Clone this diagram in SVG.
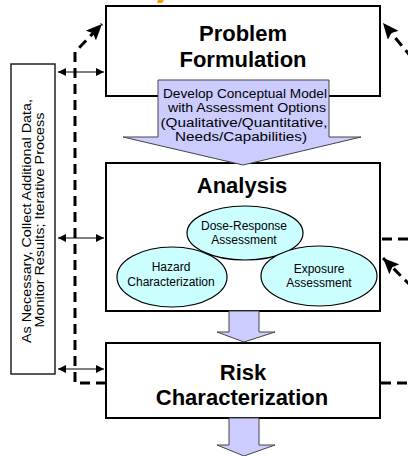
<svg xmlns="http://www.w3.org/2000/svg" width="408" height="456" viewBox="0 0 408 456">
<style>
.box{fill:#fff;stroke:#000;stroke-width:2}
.title{font-family:"Liberation Sans",Arial,sans-serif;font-weight:bold;font-size:22px;text-anchor:middle;fill:#000}
.small{font-family:"Liberation Sans",Arial,sans-serif;font-size:12px;text-anchor:middle;fill:#000}
.side{font-family:"Liberation Sans",Arial,sans-serif;font-size:12.5px;text-anchor:middle;fill:#000}
.lav{fill:#CCCCFF;stroke:#444;stroke-width:1}
.ell{fill:#CCFFFF;stroke:#000;stroke-width:1.2}
.thin{fill:none;stroke:#000;stroke-width:1.2;marker-start:url(#sm);marker-end:url(#sm)}
.dash{fill:none;stroke:#000;stroke-width:3;stroke-dasharray:10 6}
</style>
<defs>
<marker id="sm" viewBox="0 0 8 8" refX="8" refY="4" markerWidth="8" markerHeight="8" markerUnits="userSpaceOnUse" orient="auto-start-reverse">
<path d="M0,0 L8,4 L0,8 z" fill="#000"/>
</marker>
<marker id="big" viewBox="0 0 16 14" refX="16" refY="7" markerWidth="16" markerHeight="14" markerUnits="userSpaceOnUse" orient="auto">
<path d="M0,0 L16,7 L0,14 L3,7 z" fill="#000"/>
</marker>
</defs>
<polygon points="158,0 164,0 162,3 157,3" fill="#FF9900"/>
<g id="problem-formulation">
<rect class="box" x="106" y="6" width="274" height="90"/>
<text class="title" x="243" y="41">Problem</text>
<text class="title" x="243" y="67">Formulation</text>
</g>
<g id="analysis">
<rect class="box" x="106" y="163" width="274" height="148"/>
<text class="title" x="242" y="193">Analysis</text>
</g>
<g id="conceptual-model">
<polygon class="lav" points="158,80 329,80 329,137 361,137 243,165 123,137 158,137"/>
<text class="small" x="245" y="98" textLength="164" lengthAdjust="spacingAndGlyphs">Develop Conceptual Model</text>
<text class="small" x="247" y="112" textLength="158" lengthAdjust="spacingAndGlyphs">with Assessment Options</text>
<text class="small" x="244" y="127" textLength="167" lengthAdjust="spacingAndGlyphs">(Qualitative/Quantitative,</text>
<text class="small" x="241" y="141" textLength="132" lengthAdjust="spacingAndGlyphs">Needs/Capabilities)</text>
</g>
<g id="dose-response">
<ellipse class="ell" cx="245" cy="233" rx="58" ry="27"/>
<text class="small" x="244" y="230">Dose-Response</text>
<text class="small" x="244" y="244">Assessment</text>
</g>
<g id="hazard">
<ellipse class="ell" cx="172" cy="277" rx="55" ry="30"/>
<text class="small" x="171" y="271">Hazard</text>
<text class="small" x="171" y="286">Characterization</text>
</g>
<g id="exposure">
<ellipse class="ell" cx="319" cy="276" rx="58" ry="30"/>
<text class="small" x="319" y="273">Exposure</text>
<text class="small" x="319" y="287">Assessment</text>
</g>
<g id="risk-characterization">
<rect class="box" x="106" y="343" width="274" height="75"/>
<text class="title" x="243" y="380">Risk</text>
<text class="title" x="242" y="405">Characterization</text>
</g>
<g id="side-note">
<rect x="11" y="64" width="44" height="310" fill="#fff" stroke="#222" stroke-width="1.5"/>
<text class="side" transform="rotate(-90)" x="-221" y="31" textLength="244" lengthAdjust="spacingAndGlyphs">As Necessary, Collect Additional Data,</text>
<text class="side" transform="rotate(-90)" x="-220" y="44" textLength="215" lengthAdjust="spacingAndGlyphs">Monitor Results; Iterative Process</text>
</g>
<g id="connectors">
<polygon class="lav" points="229,311 259,311 259,332 275,332 244,342 217,332 229,332"/>
<polygon class="lav" points="229,418 259,418 259,445 275,445 244,456 217,445 229,445"/>
<line class="thin" x1="58" y1="72" x2="104" y2="72"/>
<line class="thin" x1="58" y1="238" x2="104" y2="238"/>
<line class="thin" x1="58" y1="369" x2="104" y2="369"/>
<path class="dash" d="M106,383 H75 V52 L102,24" marker-end="url(#big)"/>
<path class="dash" d="M381,383 H410"/>
<path class="dash" d="M382,239 H410"/>
<path class="dash" d="M412,58 L383,23" marker-end="url(#big)"/>
<path class="dash" d="M412,287 L383,258" marker-end="url(#big)"/>
</g>
</svg>
